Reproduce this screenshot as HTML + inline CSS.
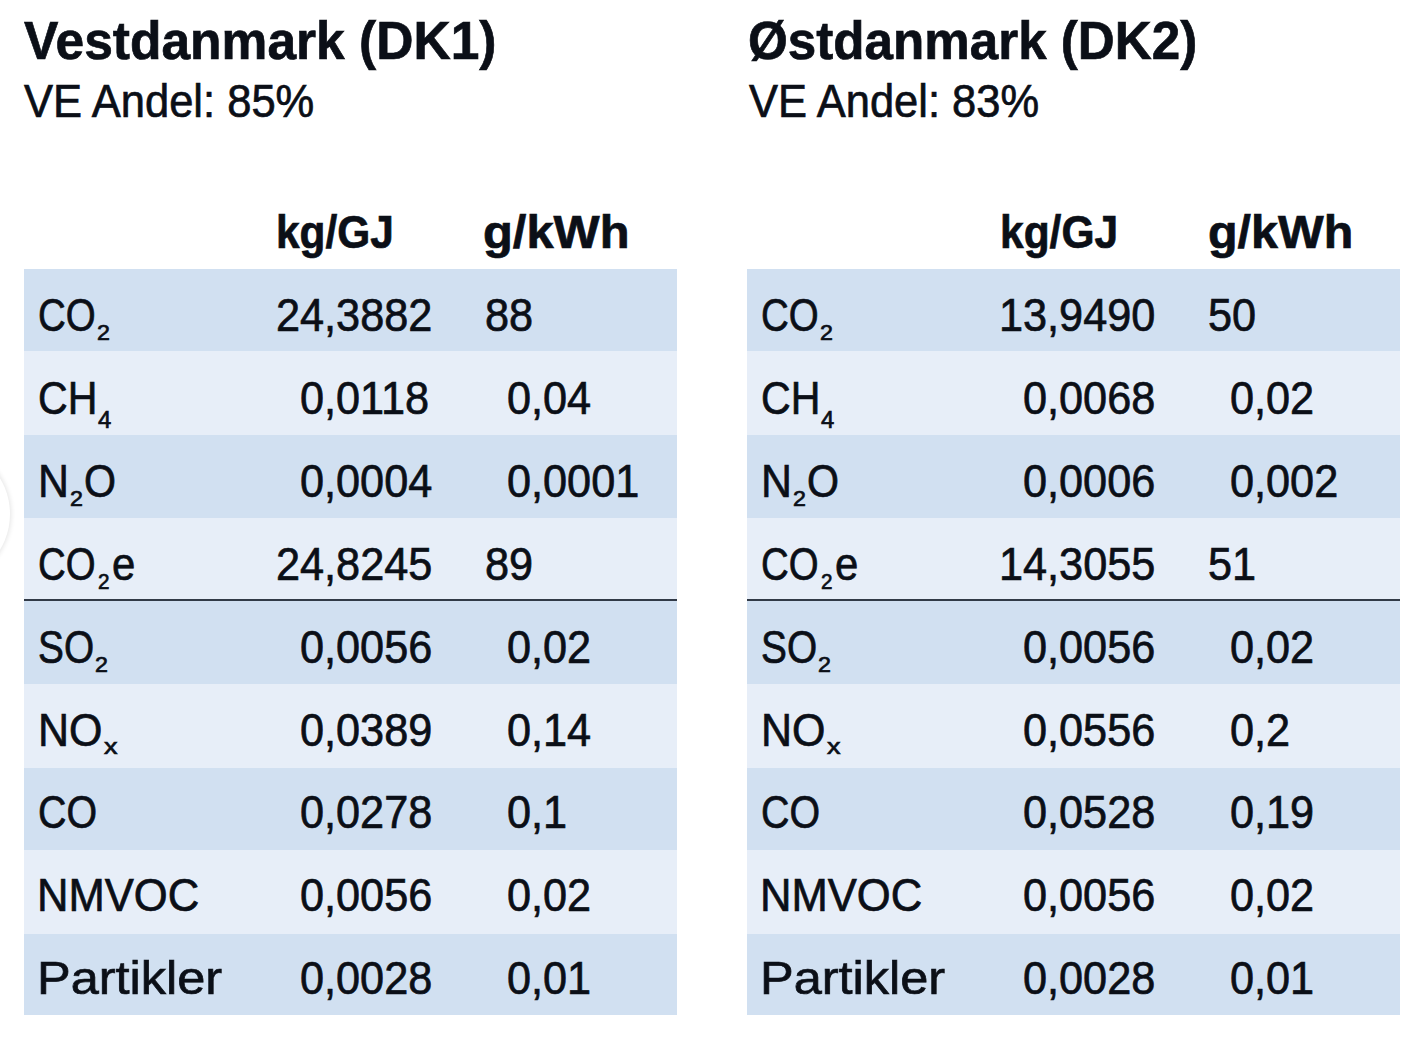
<!DOCTYPE html>
<html><head><meta charset="utf-8"><style>
html,body{margin:0;padding:0;background:#fff;width:1420px;height:1039px;overflow:hidden;position:relative}
.t{position:absolute;white-space:nowrap;line-height:1;font-family:"Liberation Sans",sans-serif;color:#0b0f17;transform-origin:0 0;-webkit-text-stroke:0.7px #0b0f17}
.r{position:absolute;width:653px}
.c{position:absolute;left:-128px;top:445px;width:138px;height:138px;border-radius:50%;background:#fff;box-shadow:0 0 5px 1px rgba(0,0,0,0.11)}
</style></head><body>
<div class="c"></div>
<div class="r" style="left:24px;top:269.00px;height:81.50px;background:#d1e0f1"></div>
<div class="r" style="left:24px;top:350.50px;height:84.50px;background:#e7eef8"></div>
<div class="r" style="left:24px;top:435.00px;height:82.50px;background:#d1e0f1"></div>
<div class="r" style="left:24px;top:517.50px;height:82.50px;background:#e7eef8"></div>
<div class="r" style="left:24px;top:600.00px;height:83.50px;background:#d1e0f1"></div>
<div class="r" style="left:24px;top:683.50px;height:84.00px;background:#e7eef8"></div>
<div class="r" style="left:24px;top:767.50px;height:82.00px;background:#d1e0f1"></div>
<div class="r" style="left:24px;top:849.50px;height:84.50px;background:#e7eef8"></div>
<div class="r" style="left:24px;top:934.00px;height:81.00px;background:#d1e0f1"></div>
<div class="r" style="left:24px;top:599px;height:2px;background:#313a47"></div>
<div class="r" style="left:747px;top:269.00px;height:81.50px;background:#d1e0f1"></div>
<div class="r" style="left:747px;top:350.50px;height:84.50px;background:#e7eef8"></div>
<div class="r" style="left:747px;top:435.00px;height:82.50px;background:#d1e0f1"></div>
<div class="r" style="left:747px;top:517.50px;height:82.50px;background:#e7eef8"></div>
<div class="r" style="left:747px;top:600.00px;height:83.50px;background:#d1e0f1"></div>
<div class="r" style="left:747px;top:683.50px;height:84.00px;background:#e7eef8"></div>
<div class="r" style="left:747px;top:767.50px;height:82.00px;background:#d1e0f1"></div>
<div class="r" style="left:747px;top:849.50px;height:84.50px;background:#e7eef8"></div>
<div class="r" style="left:747px;top:934.00px;height:81.00px;background:#d1e0f1"></div>
<div class="r" style="left:747px;top:599px;height:2px;background:#313a47"></div>
<div class="t" style="left:24.00px;top:12.99px;font-size:54px;font-weight:700;transform:scaleX(0.9541)">Vestdanmark (DK1)</div>
<div class="t" style="left:748.00px;top:12.99px;font-size:54px;font-weight:700;transform:scaleX(0.9476)">Østdanmark (DK2)</div>
<div class="t" style="left:24.10px;top:77.21px;font-size:47px;transform:scaleX(0.9258)">VE Andel: 85%</div>
<div class="t" style="left:748.50px;top:77.21px;font-size:47px;transform:scaleX(0.9252)">VE Andel: 83%</div>
<div class="t" style="left:276.35px;top:208.64px;font-size:46.5px;font-weight:700;transform:scaleX(0.9119)">kg/GJ</div>
<div class="t" style="left:483.47px;top:208.64px;font-size:46.5px;font-weight:700;transform:scaleX(1.0503)">g/kWh</div>
<div class="t" style="left:999.84px;top:208.64px;font-size:46.5px;font-weight:700;transform:scaleX(0.9143)">kg/GJ</div>
<div class="t" style="left:1208.49px;top:208.64px;font-size:46.5px;font-weight:700;transform:scaleX(1.0414)">g/kWh</div>
<div class="t" style="left:37.70px;top:292.06px;font-size:46px;transform:scaleX(0.8358)">CO</div>
<div class="t" style="left:96.91px;top:321.95px;font-size:22.5px;transform:scaleX(1.0335)">2</div>
<div class="t" style="left:37.58px;top:374.96px;font-size:46px;transform:scaleX(0.8921)">CH</div>
<div class="t" style="left:97.63px;top:409.01px;font-size:23.5px;transform:scaleX(1.0151)">4</div>
<div class="t" style="left:38.05px;top:457.86px;font-size:46px;transform:scaleX(0.9314)">N</div>
<div class="t" style="left:69.51px;top:487.75px;font-size:22.5px;transform:scaleX(1.0335)">2</div>
<div class="t" style="left:84.27px;top:457.86px;font-size:46px;transform:scaleX(0.8949)">O</div>
<div class="t" style="left:37.90px;top:540.76px;font-size:46px;transform:scaleX(0.8343)">CO</div>
<div class="t" style="left:97.53px;top:570.65px;font-size:22.5px;transform:scaleX(0.9197)">2</div>
<div class="t" style="left:111.89px;top:540.76px;font-size:46px;transform:scaleX(0.9111)">e</div>
<div class="t" style="left:38.09px;top:623.66px;font-size:46px;transform:scaleX(0.8441)">SO</div>
<div class="t" style="left:95.31px;top:653.55px;font-size:22.5px;transform:scaleX(1.0335)">2</div>
<div class="t" style="left:38.04px;top:706.56px;font-size:46px;transform:scaleX(0.9336)">NO</div>
<div class="t" style="left:103.50px;top:736.45px;font-size:22.5px;transform:scaleX(1.2000)">x</div>
<div class="t" style="left:37.65px;top:789.46px;font-size:46px;transform:scaleX(0.8559)">CO</div>
<div class="t" style="left:37.10px;top:872.36px;font-size:46px;transform:scaleX(0.9468)">NMVOC</div>
<div class="t" style="left:37.36px;top:955.26px;font-size:46px;transform:scaleX(1.0977)">Partikler</div>
<div class="t" style="left:760.70px;top:292.06px;font-size:46px;transform:scaleX(0.8358)">CO</div>
<div class="t" style="left:819.91px;top:321.95px;font-size:22.5px;transform:scaleX(1.0335)">2</div>
<div class="t" style="left:760.58px;top:374.96px;font-size:46px;transform:scaleX(0.8921)">CH</div>
<div class="t" style="left:820.63px;top:409.01px;font-size:23.5px;transform:scaleX(1.0151)">4</div>
<div class="t" style="left:761.05px;top:457.86px;font-size:46px;transform:scaleX(0.9314)">N</div>
<div class="t" style="left:792.51px;top:487.75px;font-size:22.5px;transform:scaleX(1.0335)">2</div>
<div class="t" style="left:807.27px;top:457.86px;font-size:46px;transform:scaleX(0.8949)">O</div>
<div class="t" style="left:760.90px;top:540.76px;font-size:46px;transform:scaleX(0.8343)">CO</div>
<div class="t" style="left:820.53px;top:570.65px;font-size:22.5px;transform:scaleX(0.9197)">2</div>
<div class="t" style="left:834.89px;top:540.76px;font-size:46px;transform:scaleX(0.9111)">e</div>
<div class="t" style="left:761.09px;top:623.66px;font-size:46px;transform:scaleX(0.8441)">SO</div>
<div class="t" style="left:818.31px;top:653.55px;font-size:22.5px;transform:scaleX(1.0335)">2</div>
<div class="t" style="left:761.04px;top:706.56px;font-size:46px;transform:scaleX(0.9336)">NO</div>
<div class="t" style="left:826.50px;top:736.45px;font-size:22.5px;transform:scaleX(1.2000)">x</div>
<div class="t" style="left:760.65px;top:789.46px;font-size:46px;transform:scaleX(0.8559)">CO</div>
<div class="t" style="left:760.10px;top:872.36px;font-size:46px;transform:scaleX(0.9468)">NMVOC</div>
<div class="t" style="left:760.36px;top:955.26px;font-size:46px;transform:scaleX(1.0977)">Partikler</div>
<div class="t" style="left:276.47px;top:292.06px;font-size:46px;transform:scaleX(0.9400)">24,3882</div>
<div class="t" style="left:300.25px;top:374.96px;font-size:46px;transform:scaleX(0.9400)">0,0118</div>
<div class="t" style="left:300.25px;top:457.86px;font-size:46px;transform:scaleX(0.9400)">0,0004</div>
<div class="t" style="left:276.47px;top:540.76px;font-size:46px;transform:scaleX(0.9400)">24,8245</div>
<div class="t" style="left:300.25px;top:623.66px;font-size:46px;transform:scaleX(0.9400)">0,0056</div>
<div class="t" style="left:300.25px;top:706.56px;font-size:46px;transform:scaleX(0.9400)">0,0389</div>
<div class="t" style="left:300.25px;top:789.46px;font-size:46px;transform:scaleX(0.9400)">0,0278</div>
<div class="t" style="left:300.25px;top:872.36px;font-size:46px;transform:scaleX(0.9400)">0,0056</div>
<div class="t" style="left:300.25px;top:955.26px;font-size:46px;transform:scaleX(0.9400)">0,0028</div>
<div class="t" style="left:999.10px;top:292.06px;font-size:46px;transform:scaleX(0.9400)">13,9490</div>
<div class="t" style="left:1023.25px;top:374.96px;font-size:46px;transform:scaleX(0.9400)">0,0068</div>
<div class="t" style="left:1023.25px;top:457.86px;font-size:46px;transform:scaleX(0.9400)">0,0006</div>
<div class="t" style="left:999.10px;top:540.76px;font-size:46px;transform:scaleX(0.9400)">14,3055</div>
<div class="t" style="left:1023.25px;top:623.66px;font-size:46px;transform:scaleX(0.9400)">0,0056</div>
<div class="t" style="left:1023.25px;top:706.56px;font-size:46px;transform:scaleX(0.9400)">0,0556</div>
<div class="t" style="left:1023.25px;top:789.46px;font-size:46px;transform:scaleX(0.9400)">0,0528</div>
<div class="t" style="left:1023.25px;top:872.36px;font-size:46px;transform:scaleX(0.9400)">0,0056</div>
<div class="t" style="left:1023.25px;top:955.26px;font-size:46px;transform:scaleX(0.9400)">0,0028</div>
<div class="t" style="left:484.95px;top:292.06px;font-size:46px;transform:scaleX(0.9400)">88</div>
<div class="t" style="left:507.35px;top:374.96px;font-size:46px;transform:scaleX(0.9400)">0,04</div>
<div class="t" style="left:507.35px;top:457.86px;font-size:46px;transform:scaleX(0.9400)">0,0001</div>
<div class="t" style="left:484.95px;top:540.76px;font-size:46px;transform:scaleX(0.9400)">89</div>
<div class="t" style="left:507.35px;top:623.66px;font-size:46px;transform:scaleX(0.9400)">0,02</div>
<div class="t" style="left:507.35px;top:706.56px;font-size:46px;transform:scaleX(0.9400)">0,14</div>
<div class="t" style="left:507.35px;top:789.46px;font-size:46px;transform:scaleX(0.9400)">0,1</div>
<div class="t" style="left:507.35px;top:872.36px;font-size:46px;transform:scaleX(0.9400)">0,02</div>
<div class="t" style="left:507.35px;top:955.26px;font-size:46px;transform:scaleX(0.9400)">0,01</div>
<div class="t" style="left:1207.95px;top:292.06px;font-size:46px;transform:scaleX(0.9400)">50</div>
<div class="t" style="left:1230.35px;top:374.96px;font-size:46px;transform:scaleX(0.9400)">0,02</div>
<div class="t" style="left:1230.35px;top:457.86px;font-size:46px;transform:scaleX(0.9400)">0,002</div>
<div class="t" style="left:1207.95px;top:540.76px;font-size:46px;transform:scaleX(0.9400)">51</div>
<div class="t" style="left:1230.35px;top:623.66px;font-size:46px;transform:scaleX(0.9400)">0,02</div>
<div class="t" style="left:1230.35px;top:706.56px;font-size:46px;transform:scaleX(0.9400)">0,2</div>
<div class="t" style="left:1230.35px;top:789.46px;font-size:46px;transform:scaleX(0.9400)">0,19</div>
<div class="t" style="left:1230.35px;top:872.36px;font-size:46px;transform:scaleX(0.9400)">0,02</div>
<div class="t" style="left:1230.35px;top:955.26px;font-size:46px;transform:scaleX(0.9400)">0,01</div>
</body></html>
